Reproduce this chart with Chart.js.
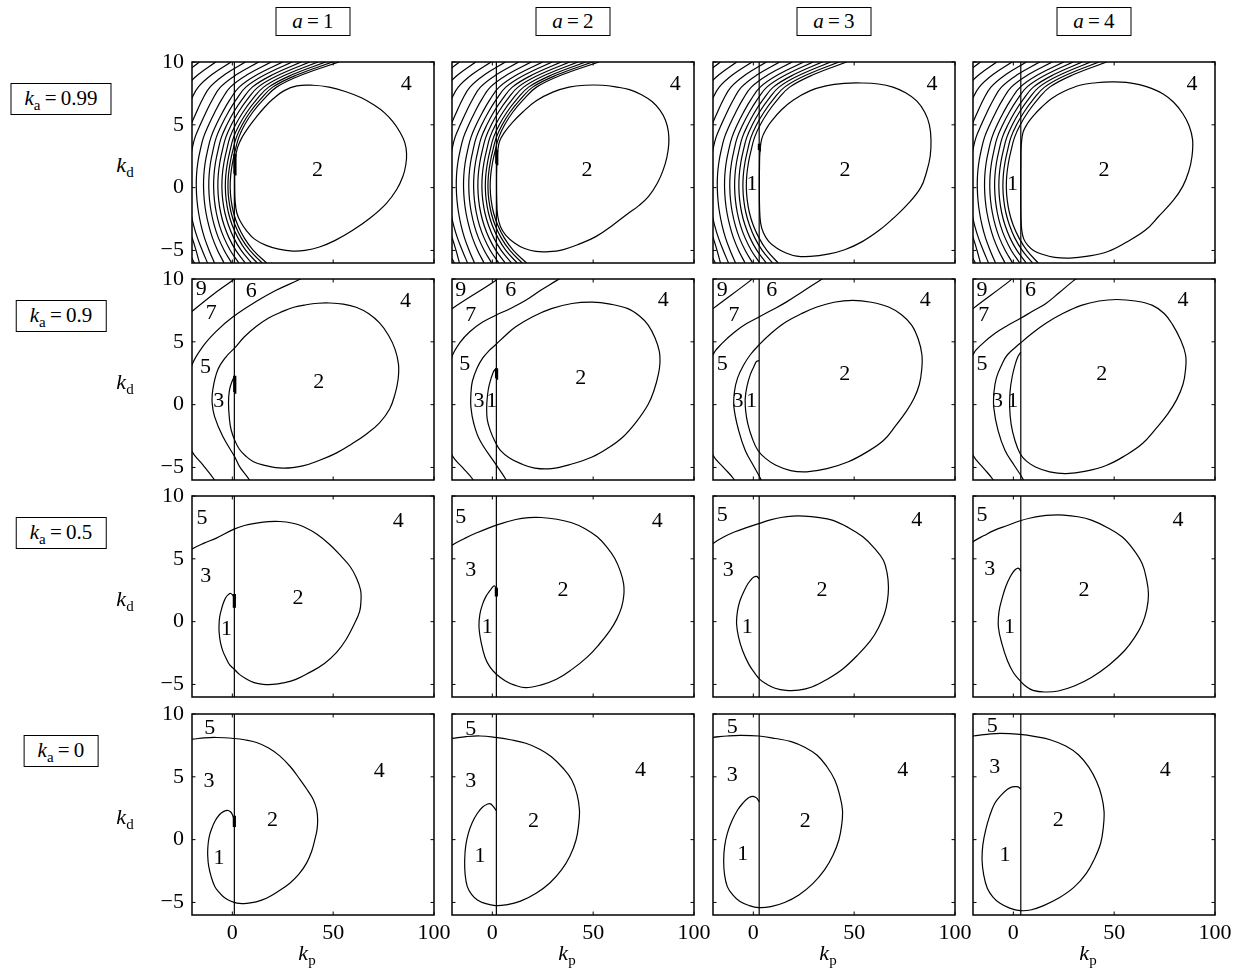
<!DOCTYPE html>
<html><head><meta charset="utf-8">
<script src="https://cdn.jsdelivr.net/npm/chart.js@4.4.1/dist/chart.umd.min.js"></script>
<style>
html,body{margin:0;padding:0;background:#fff;}
body{width:1244px;height:977px;position:relative;overflow:hidden;font-family:'Liberation Serif','Times New Roman',serif;color:#000;}
canvas{position:absolute;}
.hdr{position:absolute;border:1px solid #000;font-size:21px;text-align:center;background:#fff;transform:translateX(-50%);white-space:nowrap;box-sizing:border-box;}
.lbl{position:absolute;font-size:22px;white-space:nowrap;transform:translate(-50%,-50%);line-height:22px;}
sub{font-size:15px;vertical-align:-5px;line-height:0;}
</style></head><body>
<script>
// ---------- data ----------
const aValues = [1, 2, 3, 4];
const kaValues = ['0.99', '0.9', '0.5', '0'];
const xTicks = [0, 50, 100];
const yTicks = [-5, 0, 5, 10];
const kpLine = [1, 2, 2.9, 3.7];

// row 1 (ka = 0.99): family of boundaries, kp read at these kd levels
const hatchY  = [10, 9, 8, 7, 6, 5, 4, 3, 2, 1, 0, -1, -2, -3, -4, -5, -6];
const hatchC0 = [52.9, 34.9, 21.9, 15.4, 10.1, 6.1, 3.2, 1.5, 0.1, -0.8, -1.07, -0.6, 0.6, 2.7, 5.9, 10.4, 17.0];
const hatchC1 = [49.7, 32.5, 20.0, 13.8, 8.75, 4.9, 2.0, 0.3, -1.05, -1.92, -2.17, -1.72, -0.57, 1.4, 4.4, 8.7, 14.8];
const hatchC2 = [46.3, 29.85, 18.0, 12.0, 7.2, 3.45, 0.6, -1.05, -2.4, -3.24, -3.47, -3.03, -1.93, -0.05, 2.8, 6.7, 12.35];
const hatchC3 = [42.5, 26.8, 15.5, 9.8, 5.25, 1.6, -1.2, -2.8, -4.15, -4.96, -5.17, -4.75, -3.7, -1.9, 0.7, 4.4, 9.5];
const hatchC4 = [38.4, 23.5, 12.75, 7.35, 3.0, -0.5, -3.25, -4.9, -6.2, -6.98, -7.17, -6.77, -5.77, -4.1, -1.65, 1.75, 6.4];
const hatchC5 = [34.2, 20.1, 9.9, 4.8, 0.65, -2.7, -5.45, -7.05, -8.35, -9.1, -9.27, -8.88, -7.94, -6.4, -4.1, -1.0, 3.2];
const hatchC6 = [29.7, 16.35, 6.7, 1.9, -2.0, -5.25, -7.95, -9.55, -10.8, -11.51, -11.67, -11.3, -10.4, -8.95, -6.9, -4.0, -0.35];
const hatchC7 = [25.0, 12.4, 3.4, -1.2, -4.85, -8.0, -10.6, -12.2, -13.45, -14.13, -14.27, -13.91, -13.07, -11.7, -9.85, -7.3, -4.1];
const hatchC8 = [19.3, 7.5, -1.0, -5.3, -8.7, -11.7, -14.3, -15.9, -17.1, -17.75, -17.87, -17.53, -16.74, -15.5, -13.8, -11.5, -8.8];
const hatchO1 = [13.1, 2.1, -5.9, -9.9, -13.05, -15.9, -18.5, -20.05, -21.25, -21.87, -21.97, -21.5, -20.6, -19.2, -17.3, -14.9, -12.3];
const hatchO2 = [6.5, -3.75, -11.1, -14.9, -17.8, -20.55, -23.1, -24.7, -25.8, -26.4, -26.5, -25.9, -24.5, -22.2, -19.9, -18.0, -16.3];
const hatchO3 = [-0.6, -10.1, -16.9, -20.4, -23.05, -25.7, -28.2, -29.7, -30.8, -31.4, -31.5, -31.2, -30.2, -28.4, -25.5, -22.2, -18.8];
const hatchO4 = [-8.2, -16.9, -23.15, -26.35, -29, -31.3, -33.7, -35.2, -36.3, -36.9, -37, -36.7, -35.8, -34, -31, -26.5, -19.8];
const hatchO5 = [-16.3, -24.2, -30.2, -33, -35, -37.5, -39.8, -41.2, -42.3, -42.9, -43, -42.7, -41.8, -40, -37, -33, -28];

const r1c1Ellipse = [[32,8.1],[40,8.15],[48,8.0],[56,7.65],[64,7.15],[70.5,6.55],[75.5,5.95],[79.6,5.25],[83,4.45],[85.5,3.6],[86.4,2.7],[86,1.8],[84.6,0.9],[81.5,-0.15],[76.3,-1.27],[68.5,-2.4],[59.7,-3.4],[51,-4.2],[43.2,-4.73],[36,-5.0],[30,-5.05],[23,-4.9],[16.8,-4.6],[11,-4.1],[6.9,-3.4],[4,-2.7],[2.2,-2.0],[1.4,-1.1],[1.2,0],[1.2,1.2],[1.5,2.3],[2.6,3.2],[4.8,4.0],[8,4.8],[11.8,5.6],[16,6.4],[20.1,7.05],[25.5,7.7],[32,8.1]];
const r1c2Ellipse = [[30,7.6],[38,8.0],[46,8.15],[54.6,8.15],[62,8.0],[68,7.8],[74,7.4],[79.2,6.85],[83.2,6.15],[85.9,5.35],[87.3,4.45],[87.5,3.5],[86.6,2.45],[84.6,1.35],[81.8,0.35],[77.5,-0.7],[72.5,-1.45],[67.8,-2.0],[60,-2.95],[51.3,-3.9],[43,-4.5],[34.8,-4.95],[28,-5.1],[21.6,-5.08],[16,-4.85],[11,-4.4],[6.7,-3.8],[4,-3.1],[2.6,-2.2],[2.2,-1],[2.1,0.3],[2.2,1.6],[2.6,2.8],[3.6,3.7],[6,4.4],[10,5.2],[15,6.0],[21.6,6.9],[30,7.6]];
const r1c3Ellipse = [[28,7.7],[36,8.1],[45,8.3],[53.8,8.33],[62,8.25],[69.2,8.0],[75.5,7.55],[81,6.9],[85,6.0],[87.3,5.0],[88.1,3.8],[87.7,2.5],[86,1.3],[83,0.0],[76.1,-1.4],[69,-2.5],[62.4,-3.4],[54,-4.3],[45.3,-4.95],[37,-5.3],[28.2,-5.48],[21.5,-5.45],[16.2,-5.2],[11.5,-4.8],[7.7,-4.3],[5,-3.6],[3.6,-2.8],[3.1,-1.6],[3.0,0],[3.05,1.6],[3.3,2.9],[4.2,3.9],[6.5,4.7],[9.4,5.37],[14,6.2],[19.7,6.96],[28,7.7]];
const r1c4Ellipse = [[25,7.65],[33,8.15],[41,8.35],[49,8.42],[56,8.38],[62.5,8.2],[68.5,7.9],[74.3,7.45],[79.5,6.8],[84,5.9],[87.2,4.9],[88.9,3.8],[88.6,2.5],[87,1.3],[84,0.1],[79.4,-1.0],[72,-2.3],[65.7,-3.36],[56,-4.35],[46.9,-5.08],[37,-5.45],[28,-5.61],[20.5,-5.55],[14.3,-5.3],[10,-5.0],[7.2,-4.6],[5.2,-4.1],[4.2,-3.4],[3.8,-2.4],[3.7,-1],[3.7,0.5],[3.75,2],[3.9,3.3],[4.8,4.4],[7,5.1],[9.8,5.7],[14,6.4],[19,7.1],[25,7.65]];

// row 2 (ka = 0.9)
const r2c1A = [[-26,6.6],[-20,7.42],[-9.7,8.75],[0.2,9.9],[1.5,10.1]];
const r2c1B = [[36,10.2],[32.5,9.9],[21.7,9.1],[11.8,8.2],[0.2,6.97],[-8,5.83],[-14.6,4.63],[-20,3.17],[-25,0.5],[-26,-0.5],[-25,-1.8],[-20,-3.74],[-14.6,-4.8],[-8.8,-6],[-7,-6.5]];
const r2c1C = [[9.5,-6.5],[8.5,-6],[3.6,-4.93],[1.1,-4.13],[-4.7,-2.54],[-8.8,-0.95],[-10,0.12],[-9.7,1.18],[-7.2,2.77],[-3,3.83],[1.1,4.5],[6,5.4],[11.8,6.22],[18,6.9],[25,7.42],[30.5,7.75],[36.6,7.95],[42.5,8.07],[48.2,8.09],[55,8.0],[61.4,7.75],[67.5,7.25],[73,6.5],[77.5,5.5],[80.7,4.4],[82.4,3.2],[82.2,2.0],[80.6,0.8],[78,-0.35],[73,-1.45],[66.4,-2.35],[59,-3.15],[51.5,-3.86],[43,-4.45],[34.9,-4.88],[25,-5.06],[15.1,-4.8],[10.5,-4.55],[6.9,-4.13],[3.5,-3.55],[1.1,-2.8],[-0.6,-2.0],[-1.4,-1.2],[-1.9,0.12],[-1.4,1.18],[0.2,1.98],[1.2,2.3]];
const r2c2A = [[-26,6.8],[-20,7.64],[1.5,9.87],[2.5,10.1]];
const r2c2B = [[35,10.2],[31.8,9.87],[24,9.1],[16.6,8.3],[9,7.65],[1.5,7.1],[-5,6.55],[-11.2,5.8],[-16,4.95],[-20,3.83],[-25,1],[-26,-0.5],[-25,-2],[-20,-4.04],[-14.5,-5.05],[-9.9,-5.9],[-8,-6.5]];
const r2c2C = [[8,-6.5],[6.5,-5.9],[1.5,-4.7],[-6.1,-2.86],[-9.2,-1.5],[-10.6,-0.24],[-10.6,0.9],[-9.9,1.86],[-7.6,2.9],[-4.8,3.7],[-1.6,4.3],[1.5,4.75],[6.5,5.5],[11.6,6.2],[20,7.0],[29.3,7.64],[39.5,8.05],[49.5,8.16],[58.5,8.0],[67.2,7.64],[73,7.05],[77.3,6.33],[80.7,5.3],[82.8,4.23],[83.1,3.3],[82.3,2.39],[80.3,1.2],[77.3,0.03],[71.5,-1.35],[64.6,-2.6],[57,-3.5],[49.5,-4.17],[39,-4.75],[29.3,-5.09],[21,-5.05],[14.1,-4.7],[8.5,-4.25],[4,-3.65],[1.2,-2.9],[-1,-2.07],[-2.5,-1.2],[-2.8,-0.24],[-2.4,0.75],[-1.5,1.6],[0.5,2.6],[2,2.9]];
const r2c3A = [[-26,6.8],[-20,7.64],[-1.5,9.87],[-0.5,10.1]];
const r2c3B = [[36,10.2],[32.8,9.87],[24.5,9.0],[16.3,8.16],[9.5,7.55],[2.8,6.98],[-3.3,6.45],[-9.1,5.8],[-15,4.95],[-20,3.97],[-25,1.2],[-26,-0.5],[-25,-2],[-20,-4.04],[-14.5,-5.05],[-9.8,-5.9],[-8,-6.5]];
const r2c3C = [[5,-6.5],[3.6,-5.9],[0,-4.85],[-4,-3.65],[-7.3,-2.05],[-9.6,-0.24],[-9.4,1.0],[-7.8,2.13],[-4.8,3.15],[-1.5,3.97],[2.8,4.75],[9,5.7],[16.3,6.59],[24,7.25],[31.5,7.77],[40,8.15],[49.3,8.3],[58.5,8.15],[67.1,7.77],[73.5,7.15],[78.5,6.33],[81.8,5.2],[83.6,3.97],[83.5,2.8],[82.3,1.6],[79.7,0.5],[76,-0.5],[70.5,-1.7],[64.5,-2.86],[56,-3.8],[46.8,-4.57],[36.5,-5.1],[26.4,-5.35],[18.5,-5.25],[11.2,-4.83],[6.2,-4.3],[2.3,-3.65],[-0.5,-2.7],[-2.7,-1.55],[-3.8,-0.5],[-4,0.55],[-3.1,1.5],[-1.5,2.39],[0.2,3.0],[1.6,3.44],[2.9,3.5]];
const r2c4A = [[-26,6.8],[-20,7.64],[-1.6,9.87],[-0.5,10.1]];
const r2c4B = [[33,10.2],[29.9,9.87],[23,8.95],[16,8.03],[9.7,7.45],[3.4,6.85],[-2.9,6.3],[-9.2,5.67],[-15,4.9],[-20,3.97],[-25,1.2],[-26,-0.5],[-25,-2],[-20,-4.04],[-14.8,-5.05],[-10.4,-5.9],[-8.5,-6.5]];
const r2c4C = [[6,-6.5],[4.7,-5.9],[0.5,-4.85],[-4.1,-3.65],[-7.6,-2.05],[-9.7,-0.24],[-9.6,1.0],[-8.4,2.13],[-5.8,3.15],[-2.9,3.97],[3.4,4.88],[9.5,5.7],[16,6.46],[24.5,7.25],[33.7,7.9],[42.5,8.25],[51.3,8.37],[60.5,8.25],[69,7.9],[74.8,7.25],[79.1,6.33],[82.8,5.2],[85.4,3.97],[85.4,2.8],[84.1,1.6],[81,0.4],[76.5,-0.76],[70.5,-1.95],[63.9,-3.12],[55.5,-4.05],[46.3,-4.83],[36,-5.3],[26.1,-5.49],[18,-5.35],[11,-4.96],[6.5,-4.5],[3.4,-3.91],[0.7,-2.8],[-1.1,-1.55],[-1.8,-0.25],[-1.6,1.07],[-0.6,2.2],[0.9,3.18],[2.2,3.8],[3.7,4.18]];

// row 3 (ka = 0.5)
const r3c1 = [[-24,5.3],[-20,5.78],[-14,6.25],[-7.9,6.65],[0.86,7.36],[6,7.65],[12,7.84],[18,7.96],[23.5,7.97],[29.5,7.85],[35.1,7.57],[42,6.95],[48.4,6.12],[54,5.2],[58.3,4.41],[61.5,3.5],[63.6,2.5],[63.8,1.7],[63.1,0.8],[60,-0.34],[56.5,-1.4],[51.7,-2.45],[45.5,-3.35],[38.4,-4.04],[31.5,-4.6],[25.2,-4.88],[20,-5.0],[15.3,-4.99],[10.8,-4.85],[7,-4.57],[3.5,-4.2],[0.86,-3.77],[-1.3,-3.45],[-2.9,-2.98],[-4.7,-2.35],[-5.9,-1.66],[-6.5,-0.95],[-6.6,-0.34],[-6.3,0.35],[-5.4,0.98],[-4.4,1.5],[-3.3,1.9],[-2,2.15],[-0.8,2.24],[0.2,2.1],[0.9,1.9]];
const r3c2 = [[-24,5.5],[-20,6.08],[-14,6.6],[-8.6,7.01],[2,7.68],[11.6,8.13],[18,8.28],[24.2,8.29],[32,8.15],[39.4,7.87],[46,7.4],[52,6.75],[57,5.9],[60.8,5.01],[63.5,4.0],[65.1,3.01],[65.2,2.1],[64.1,1.15],[61.7,0.2],[58.3,-0.72],[53,-1.8],[46.9,-2.85],[39.5,-3.8],[31.8,-4.59],[24,-5.05],[16.6,-5.25],[11,-5.05],[6.5,-4.72],[2,-4.19],[-1.2,-3.6],[-3.6,-2.85],[-5.5,-1.7],[-6.6,-0.45],[-6.2,0.55],[-4.8,1.41],[-3,2.05],[-1.1,2.48],[0.1,2.75],[1,2.85],[2,2.6]];
const r3c3 = [[-24,5.6],[-20,6.21],[-14.5,6.75],[-9.1,7.15],[-3,7.5],[2.8,7.81],[8.5,8.1],[13.7,8.29],[19.5,8.4],[25.2,8.4],[32,8.3],[39.1,8.08],[47,7.5],[54.3,6.75],[60,5.85],[64.5,4.88],[66.4,3.8],[67,2.75],[66.5,1.65],[65,0.61],[62,-0.5],[58.1,-1.52],[51.5,-2.7],[44.2,-3.79],[36.5,-4.6],[29,-5.2],[22.5,-5.45],[16.3,-5.47],[10.8,-5.3],[6.1,-4.93],[3.2,-4.6],[1.1,-4.19],[-2.2,-3.4],[-5.3,-2.32],[-7.3,-1.25],[-8.3,-0.19],[-7.9,0.8],[-6.6,1.68],[-4.7,2.4],[-2.7,3.01],[-1.1,3.35],[0.3,3.55],[1.7,3.6],[2.9,3.4]];
const r3c4 = [[-24,5.7],[-20,6.35],[-14.5,6.85],[-9.2,7.28],[-3,7.65],[3.4,8.03],[8.5,8.25],[13.5,8.4],[19,8.48],[24.9,8.48],[32,8.35],[38.7,8.08],[46.5,7.5],[53.9,6.75],[59.5,5.75],[63.9,4.61],[66,3.4],[67,2.21],[66.2,1.0],[63.9,-0.19],[60,-1.3],[55.1,-2.32],[47.5,-3.45],[38.7,-4.45],[30.5,-5.1],[22.3,-5.52],[15.5,-5.6],[9.7,-5.47],[6.2,-5.15],[3.4,-4.72],[0,-4.05],[-2.9,-3.12],[-5.5,-1.85],[-7.4,-0.45],[-7.1,0.8],[-5.4,1.95],[-3.6,2.85],[-1.6,3.55],[-0.3,3.9],[0.9,4.13],[2.1,4.25],[2.9,4.21],[3.7,4.0]];

// row 4 (ka = 0)
const r4c1 = [[-24,8],[-20,8],[-14,8.1],[-7.9,8.13],[0.86,8.05],[6,7.95],[12,7.73],[18,7.3],[23.5,6.67],[28.8,5.8],[33.5,4.8],[37.2,3.95],[40.1,3.2],[41.8,2.4],[42.3,1.6],[42,0.8],[40.9,0],[39.3,-0.95],[36.8,-1.87],[33,-2.75],[28.5,-3.47],[22.5,-4.15],[16.9,-4.67],[11.8,-4.95],[7,-5.07],[3.5,-5.08],[0.86,-4.99],[-2,-4.8],[-4.6,-4.53],[-6.8,-4.15],[-8.7,-3.73],[-10.4,-3.0],[-11.7,-2.13],[-12.2,-1.3],[-12.1,-0.53],[-11.5,0.2],[-10.4,0.8],[-8.5,1.5],[-6.3,2],[-4.2,2.25],[-2.1,2.32],[-0.8,2.2],[0,2],[0.9,1.6]];
const r4c2 = [[-24,8.0],[-20,8.06],[-13,8.2],[-6.1,8.25],[1.5,8.14],[9,7.95],[16.6,7.67],[23.5,7.2],[29.3,6.6],[35,5.7],[39.4,4.75],[42,3.6],[43.2,2.36],[42.8,1.2],[41.5,-0.03],[38.5,-1.3],[34.3,-2.41],[28.5,-3.45],[21.7,-4.27],[14,-4.9],[6.5,-5.2],[1.5,-5.25],[-3.2,-5.1],[-7.4,-4.8],[-10.3,-4.35],[-12.4,-3.74],[-13.5,-2.75],[-13.7,-1.62],[-13.2,-0.5],[-11.9,0.5],[-10,1.35],[-7.4,2.1],[-4.8,2.6],[-2.3,2.84],[-0.9,2.85],[0.2,2.68],[2,2.3]];
const r4c3 = [[-24,8.1],[-20,8.14],[-13,8.25],[-6.6,8.3],[2.8,8.25],[11,8.05],[18.8,7.8],[25.5,7.35],[31.5,6.74],[36.5,5.8],[40.4,4.75],[42.8,3.55],[44.2,2.36],[43.8,1.15],[42.4,-0.03],[39.5,-1.25],[35.3,-2.41],[29.5,-3.5],[22.6,-4.4],[15.5,-5.0],[8.7,-5.33],[2.8,-5.41],[-2,-5.25],[-6.6,-4.93],[-10.2,-4.4],[-12.9,-3.74],[-14.3,-2.75],[-14.7,-1.62],[-14.2,-0.5],[-12.9,0.5],[-10.6,1.5],[-7.8,2.36],[-5.1,2.92],[-2.7,3.29],[-1.1,3.42],[0.3,3.42],[1.7,3.3],[2.9,3.0]];
const r4c4 = [[-24,8.2],[-20,8.25],[-13,8.38],[-6.6,8.46],[3.4,8.38],[11,8.2],[18.6,7.93],[26,7.45],[32.4,6.74],[37.5,5.75],[41.3,4.62],[43.8,3.45],[45,2.23],[44.6,0.95],[43.3,-0.29],[40.3,-1.5],[36.2,-2.68],[30,-3.8],[22.3,-4.67],[15,-5.25],[8.5,-5.6],[3.4,-5.65],[-1.8,-5.45],[-6.6,-5.07],[-10.2,-4.55],[-12.9,-3.87],[-14.7,-2.8],[-15.5,-1.62],[-15.1,-0.4],[-13.7,0.77],[-11.8,1.85],[-9.2,2.89],[-6,3.55],[-2.9,4.01],[-0.5,4.2],[1.7,4.22],[2.9,4.15],[3.7,4.0]];

// short thick pieces on the vertical line
const r1c1Bold = [[1.1,1.1],[1.3,2.7]];
const r1c2Bold = [[2.0,1.9],[2.2,3.0]];
const r1c3Bold = [[2.9,3.0],[3.0,3.5]];
const r2c1Bold = [[1.0,1.0],[1.2,2.3]];
const r2c2Bold = [[2.0,2.1],[2.1,2.9]];
const r3c1Bold = [[1.0,1.1],[1.0,2.2]];
const r3c2Bold = [[2.0,2.0],[2.0,2.7]];
const r4c1Bold = [[1.0,1.0],[1.0,1.9]];

// region numbers [text, kp, kd]
const r1c1Labels = [['4',86.3,8.2],['2',42.2,1.4]];
const r1c2Labels = [['4',90.7,8.2],['2',47,1.4]];
const r1c3Labels = [['4',88.6,8.2],['2',45.5,1.4],['1',-0.6,0.3]];
const r1c4Labels = [['4',88.6,8.2],['2',45,1.4],['1',-0.4,0.3]];
const r2c1Labels = [['9',-15.4,9.15],['7',-10.5,7.3],['6',9.4,9.0],['4',85.9,8.2],['5',-13.3,3.0],['2',42.9,1.76],['3',-6.7,0.25]];
const r2c2Labels = [['9',-15.7,9.08],['7',-10.7,7.1],['6',9.1,9.08],['4',84.8,8.3],['5',-13.7,3.2],['2',43.9,2.13],['3',-6.6,0.29],['1',-0.3,0.29]];
const r2c3Labels = [['9',-15.4,9.08],['7',-9.6,7.1],['6',9.1,9.08],['4',85.3,8.3],['5',-15.4,3.2],['2',45.3,2.4],['3',-7.6,0.29],['1',-0.9,0.29]];
const r2c4Labels = [['9',-15.5,9.08],['7',-14.7,7.1],['6',8.5,9.08],['4',84.1,8.3],['5',-15.5,3.2],['2',43.8,2.4],['3',-7.9,0.29],['1',-0.3,0.29]];
const r3c1Labels = [['5',-15,8.23],['4',82.3,7.97],['3',-13.2,3.61],['2',32.6,1.9],['1',-2.9,-0.61]];
const r3c2Labels = [['5',-15.7,8.35],['4',81.8,8.03],['3',-10.7,4.08],['2',35.1,2.48],['1',-2.5,-0.45]];
const r3c3Labels = [['5',-15.4,8.48],['4',81,8.08],['3',-12.4,4.13],['2',34,2.48],['1',-3.0,-0.45]];
const r3c4Labels = [['5',-15.5,8.48],['4',81.6,8.08],['3',-11.7,4.21],['2',35,2.48],['1',-1.9,-0.45]];
const r4c1Labels = [['5',-11.2,8.85],['3',-11.6,4.67],['4',72.9,5.47],['2',19.9,1.55],['1',-6.6,-1.47]];
const r4c2Labels = [['5',-10.7,8.78],['3',-10.7,4.62],['4',73.5,5.54],['2',20.4,1.43],['1',-6.1,-1.35]];
const r4c3Labels = [['5',-10.4,8.94],['3',-10.4,5.15],['4',74.1,5.54],['2',25.7,1.43],['1',-5.3,-1.14]];
const r4c4Labels = [['5',-10.4,9.0],['3',-9.2,5.8],['4',75.3,5.54],['2',22.3,1.57],['1',-4.1,-1.22]];

// ---------- layout ----------
const colLeft = [192, 452, 713, 973];
const rowTop = [62, 279, 496, 714];
const PW = 242, PH = 201, ML = 46, MT = 12, MR = 18, MB = 32;
const FONT = "'Liberation Serif','Times New Roman',serif";
const LW = 1.2;

function zipHatch(xs) { return xs.map((x, i) => [x, hatchY[i]]); }
const hatchInnerAll = [hatchC0, hatchC1, hatchC2, hatchC3, hatchC4, hatchC5, hatchC6, hatchC7, hatchC8].map(zipHatch);
const hatchOuter = [hatchO1, hatchO2, hatchO3, hatchO4, hatchO5].map(zipHatch);

const panels = [
  [
    {curves: [...hatchOuter, ...hatchInnerAll], loops: [r1c1Ellipse], bold: [r1c1Bold], labels: r1c1Labels},
    {curves: [...hatchOuter, ...hatchInnerAll], loops: [r1c2Ellipse], bold: [r1c2Bold], labels: r1c2Labels},
    {curves: [...hatchOuter, ...hatchInnerAll.slice(2)], loops: [r1c3Ellipse], bold: [r1c3Bold], labels: r1c3Labels},
    {curves: [...hatchOuter, ...hatchInnerAll.slice(2)], loops: [r1c4Ellipse], bold: [], labels: r1c4Labels}
  ],
  [
    {curves: [r2c1A, r2c1B, r2c1C], loops: [], bold: [r2c1Bold], labels: r2c1Labels},
    {curves: [r2c2A, r2c2B, r2c2C], loops: [], bold: [r2c2Bold], labels: r2c2Labels},
    {curves: [r2c3A, r2c3B, r2c3C], loops: [], bold: [], labels: r2c3Labels},
    {curves: [r2c4A, r2c4B, r2c4C], loops: [], bold: [], labels: r2c4Labels}
  ],
  [
    {curves: [r3c1], loops: [], bold: [r3c1Bold], labels: r3c1Labels},
    {curves: [r3c2], loops: [], bold: [r3c2Bold], labels: r3c2Labels},
    {curves: [r3c3], loops: [], bold: [], labels: r3c3Labels},
    {curves: [r3c4], loops: [], bold: [], labels: r3c4Labels}
  ],
  [
    {curves: [r4c1], loops: [], bold: [r4c1Bold], labels: r4c1Labels},
    {curves: [r4c2], loops: [], bold: [], labels: r4c2Labels},
    {curves: [r4c3], loops: [], bold: [], labels: r4c3Labels},
    {curves: [r4c4], loops: [], bold: [], labels: r4c4Labels}
  ]
];

function ds(pts, width, tension) {
  return {data: pts.map(p => ({x: p[0], y: p[1]})), showLine: true, borderColor: '#000',
    borderWidth: width, pointRadius: 0, pointHoverRadius: 0, tension: tension, fill: false};
}
// closed curve: pad one point on each side and hide the padding segments so the join is smooth
function loopDs(pts) {
  const n = pts.length;
  const ext = [pts[n - 2], ...pts, pts[1]];
  const N = ext.length;
  const d = ds(ext, LW, 0.4);
  d.segment = {borderColor: c => (c.p0DataIndex === 0 || c.p1DataIndex === N - 1) ? 'rgba(0,0,0,0)' : undefined};
  return d;
}
function fmt(v) { return v < 0 ? '\u2212' + Math.abs(v) : String(v); }

const framePlugin = {
  id: 'frame',
  afterDatasetsDraw(chart) {
    const {ctx, chartArea: a, scales} = chart;
    ctx.save();
    ctx.strokeStyle = '#000';
    ctx.lineWidth = 1.5;
    ctx.strokeRect(a.left, a.top, a.right - a.left, a.bottom - a.top);
    ctx.lineWidth = 1;
    const t = 3.5;
    ctx.beginPath();
    xTicks.forEach(v => {
      const px = scales.x.getPixelForValue(v);
      ctx.moveTo(px, a.bottom); ctx.lineTo(px, a.bottom - t);
      ctx.moveTo(px, a.top); ctx.lineTo(px, a.top + t);
    });
    yTicks.forEach(v => {
      const py = scales.y.getPixelForValue(v);
      ctx.moveTo(a.left, py); ctx.lineTo(a.left + t, py);
      ctx.moveTo(a.right, py); ctx.lineTo(a.right - t, py);
    });
    ctx.stroke();
    ctx.restore();
  }
};

function labelPlugin(items) {
  return {
    id: 'regionLabels',
    afterDatasetsDraw(chart) {
      const {ctx, scales} = chart;
      ctx.save();
      ctx.fillStyle = '#000';
      ctx.font = '22px ' + FONT;
      ctx.textAlign = 'center';
      ctx.textBaseline = 'middle';
      items.forEach(([txt, x, y]) => {
        ctx.fillText(txt, scales.x.getPixelForValue(x), scales.y.getPixelForValue(y));
      });
      ctx.restore();
    }
  };
}

function makePanel(r, c) {
  const p = panels[r][c];
  const cv = document.createElement('canvas');
  const W = ML + PW + MR, H = MT + PH + MB;
  cv.width = W; cv.height = H;
  cv.style.width = W + 'px'; cv.style.height = H + 'px';
  cv.style.left = (colLeft[c] - ML) + 'px';
  cv.style.top = (rowTop[r] - MT) + 'px';
  document.body.appendChild(cv);
  const datasets = [];
  p.curves.forEach(cu => datasets.push(ds(cu, LW, 0.4)));
  p.loops.forEach(lp => datasets.push(loopDs(lp)));
  datasets.push(ds([[kpLine[c], -7], [kpLine[c], 11]], LW, 0));
  p.bold.forEach(b => datasets.push(ds(b, 3.2, 0)));
  new Chart(cv, {
    type: 'scatter',
    data: {datasets},
    options: {
      responsive: false, animation: false, events: [],
      devicePixelRatio: 1,
      layout: {padding: {left: 0, right: MR, top: MT, bottom: 0}},
      plugins: {legend: {display: false}, tooltip: {enabled: false}},
      scales: {
        x: {
          type: 'linear', min: -20, max: 100,
          grid: {display: false, drawTicks: false}, border: {display: false},
          ticks: {display: r === 3, color: '#000', font: {family: FONT, size: 22}, padding: 5,
                  maxRotation: 0, autoSkip: false, callback: v => fmt(v)},
          afterBuildTicks: s => { s.ticks = xTicks.map(v => ({value: v})); },
          afterFit: s => { s.height = MB; s.paddingLeft = 0; s.paddingRight = 0; s.paddingTop = 0; s.paddingBottom = 0; }
        },
        y: {
          type: 'linear', min: -6, max: 10,
          grid: {display: false, drawTicks: false}, border: {display: false},
          ticks: {display: c === 0, color: '#000', font: {family: FONT, size: 22}, padding: 8,
                  autoSkip: false, callback: v => fmt(v)},
          afterBuildTicks: s => { s.ticks = yTicks.map(v => ({value: v})); },
          afterFit: s => { s.width = ML; s.paddingLeft = 0; s.paddingRight = 0; s.paddingTop = 0; s.paddingBottom = 0; }
        }
      }
    },
    plugins: [framePlugin, labelPlugin(p.labels)]
  });
}

for (let r = 0; r < 4; r++) for (let c = 0; c < 4; c++) makePanel(r, c);

// column headers
aValues.forEach((a, c) => {
  const d = document.createElement('div');
  d.className = 'hdr';
  d.style.left = (colLeft[c] + PW / 2) + 'px';
  d.style.top = '7px';
  d.style.width = '75px';
  d.style.height = '29px';
  d.style.lineHeight = '27px';
  d.innerHTML = '<i>a</i>\u2009=\u2009' + a;
  document.body.appendChild(d);
});
// row headers + kd titles
kaValues.forEach((ka, r) => {
  const d = document.createElement('div');
  d.className = 'hdr';
  d.style.left = '61px';
  d.style.top = (rowTop[r] + 21) + 'px';
  d.style.height = '32px';
  d.style.lineHeight = '28px';
  d.style.padding = '0 13px';
  d.innerHTML = '<i>k</i><sub>a</sub>\u2009=\u2009' + ka;
  document.body.appendChild(d);
  const t = document.createElement('div');
  t.className = 'lbl';
  t.style.left = '125px';
  t.style.top = (rowTop[r] + 103) + 'px';
  t.innerHTML = '<i>k</i><sub>d</sub>';
  document.body.appendChild(t);
});
// kp titles
aValues.forEach((a, c) => {
  const t = document.createElement('div');
  t.className = 'lbl';
  t.style.left = (colLeft[c] + PW / 2 - 6) + 'px';
  t.style.top = '953px';
  t.innerHTML = '<i>k</i><sub>p</sub>';
  document.body.appendChild(t);
});
</script>
</body></html>
